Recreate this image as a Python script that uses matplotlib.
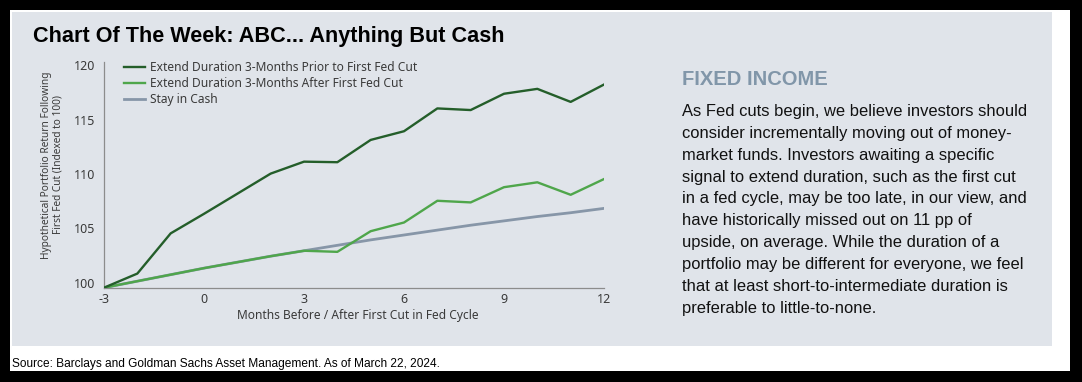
import matplotlib
matplotlib.use("Agg")
import matplotlib.pyplot as plt
from matplotlib.patches import Rectangle

# ---------------- data ----------------
months = [-3, -2, -1, 0, 1, 2, 3, 4, 5, 6, 7, 8, 9, 10, 11, 12]
prior_cut = [100.0, 101.3, 105.0, 106.8, 108.65, 110.5, 111.6, 111.55, 113.6, 114.4,
             116.5, 116.35, 117.85, 118.3, 117.1, 118.7]
after_cut = [100.0, 100.6, 101.2, 101.8, 102.35, 102.9, 103.4, 103.3, 105.2, 106.0,
             108.0, 107.85, 109.25, 109.7, 108.55, 110.0]
stay_cash = [100.0, 100.6, 101.2, 101.8, 102.35, 102.9, 103.4, 103.9, 104.4, 104.85,
             105.3, 105.75, 106.15, 106.55, 106.9, 107.3]
series_labels = ["Extend Duration 3-Months Prior to First Fed Cut",
                 "Extend Duration 3-Months After First Fed Cut",
                 "Stay in Cash"]
x_ticks = [-3, 0, 3, 6, 9, 12]
y_ticks = [100, 105, 110, 115, 120]

title = "Chart Of The Week: ABC... Anything But Cash"
ylabel = "Hypothetical Portfolio Return Following\nFirst Fed Cut (Indexed to 100)"
xlabel = "Months Before / After First Cut in Fed Cycle"
side_heading = "FIXED INCOME"
side_lines = [
    "As Fed cuts begin, we believe investors should",
    "consider incrementally moving out of money-",
    "market funds. Investors awaiting a specific",
    "signal to extend duration, such as the first cut",
    "in a fed cycle, may be too late, in our view, and",
    "have historically missed out on 11 pp of",
    "upside, on average. While the duration of a",
    "portfolio may be different for everyone, we feel",
    "that at least short-to-intermediate duration is",
    "preferable to little-to-none.",
]
source = "Source: Barclays and Goldman Sachs Asset Management. As of March 22, 2024."

# ---------------- styles ----------------
W, H = 1082, 382
C_DARK = "#245e2a"
C_LIGHT = "#4fa64b"
C_CASH = "#8796a8"
C_PANEL = "#e0e4ea"
C_TEXT = "#3a3a3a"
CHART_FONT = "Noto Sans"
TEXT_FONT = "Liberation Sans"


def fx(px):
    return px / W


def fy(py):
    return 1 - py / H


fig = plt.figure(figsize=(W / 100, H / 100), dpi=100)
fig.patch.set_facecolor("black")

# white inner area and grey panel
fig.add_artist(Rectangle((fx(10), fy(371)), fx(1070) - fx(10), fy(10) - fy(371),
                         transform=fig.transFigure, facecolor="white", edgecolor="none", zorder=0))
fig.add_artist(Rectangle((fx(12), fy(346)), fx(1052) - fx(12), fy(12) - fy(346),
                         transform=fig.transFigure, facecolor=C_PANEL, edgecolor="none", zorder=0))

# ---------------- chart ----------------
ax_left, ax_right, ax_bottom, ax_top = 104, 604, 287.7, 61.7
ax = fig.add_axes([fx(ax_left), fy(ax_bottom), fx(ax_right) - fx(ax_left), fy(ax_top) - fy(ax_bottom)])
ax.set_facecolor("none")
ax.plot(months, stay_cash, color=C_CASH, lw=2.0, label=series_labels[2], zorder=2)
ax.plot(months, after_cut, color=C_LIGHT, lw=1.7, label=series_labels[1], zorder=3)
ax.plot(months, prior_cut, color=C_DARK, lw=1.7, label=series_labels[0], zorder=4)
ax.set_xlim(-3, 12)
ax.set_ylim(100, 120.8)
ax.set_xticks(x_ticks)
ax.set_yticks(y_ticks)
ax.set_xticklabels([str(v) for v in x_ticks])
ax.set_yticklabels([str(v) for v in y_ticks])
for s in ["top", "right"]:
    ax.spines[s].set_visible(False)
for s in ["left", "bottom"]:
    ax.spines[s].set_color("#8c8c8c")
    ax.spines[s].set_linewidth(0.9)
ax.tick_params(length=0, labelsize=9, labelcolor=C_TEXT)
ax.tick_params(axis="y", pad=6)
ax.tick_params(axis="x", pad=4)
for lab in ax.get_yticklabels():
    lab.set_fontfamily(CHART_FONT)
    lab.set_verticalalignment("baseline")
for lab in ax.get_xticklabels():
    lab.set_fontfamily(CHART_FONT)

handles, labels = ax.get_legend_handles_labels()
order = [2, 1, 0]
leg = ax.legend([handles[i] for i in order], [labels[i] for i in order],
                loc="upper left", bbox_to_anchor=(fx(124), fy(61)), bbox_transform=fig.transFigure,
                frameon=False, borderpad=0, borderaxespad=0, handlelength=1.75, handletextpad=0.45,
                labelspacing=0.24, prop={"family": CHART_FONT, "size": 8.6})
for t in leg.get_texts():
    t.set_color(C_TEXT)

fig.text(fx(358), fy(315), xlabel, ha="center", va="center", fontsize=8.6,
         family=CHART_FONT, color=C_TEXT)
fig.text(fx(52), fy(165), ylabel, ha="center", va="center", rotation=90, fontsize=7.3,
         family=CHART_FONT, color=C_TEXT, linespacing=1.05, multialignment="center")

# ---------------- titles & text ----------------
fig.text(fx(33), fy(42.3), title, ha="left", va="baseline", fontsize=15.55,
         fontweight="bold", family=TEXT_FONT, color="black")
fig.text(fx(682), fy(85), side_heading, ha="left", va="baseline", fontsize=14.5,
         fontweight="bold", family=TEXT_FONT, color="#8196a9")
for i, line in enumerate(side_lines):
    fig.text(fx(682), fy(116 + 21.85 * i), line, ha="left", va="baseline", fontsize=11.9,
             family=TEXT_FONT, color="#111111")
fig.text(fx(12), fy(367), source, ha="left", va="baseline", fontsize=8.55,
         family=TEXT_FONT, color="black")

fig.savefig("out.png", dpi=100, facecolor=fig.get_facecolor())
